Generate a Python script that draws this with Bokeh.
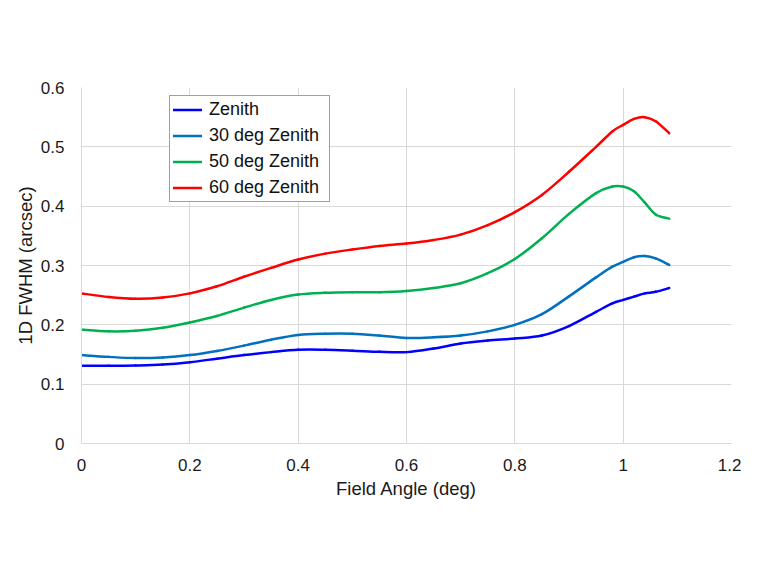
from bokeh.plotting import figure
from bokeh.models import FixedTicker, CustomJSTickFormatter, Legend, LegendItem, Range1d
from bokeh.embed import file_html
from bokeh.resources import INLINE

field_angle = [0, 0.05, 0.1, 0.15, 0.2, 0.25, 0.3, 0.35, 0.4, 0.45, 0.5, 0.55, 0.6,
               0.65, 0.7, 0.75, 0.8, 0.85, 0.9, 0.95, 0.98, 1.0, 1.02, 1.04, 1.06, 1.085]

zenith = [0.131, 0.131, 0.1315, 0.133, 0.137, 0.143, 0.149, 0.154, 0.158, 0.158, 0.1565, 0.1545, 0.154,
          0.160, 0.1685, 0.1735, 0.177, 0.182, 0.198, 0.222, 0.236, 0.242, 0.2475, 0.253, 0.2556, 0.262]
zenith30 = [0.149, 0.146, 0.144, 0.145, 0.149, 0.156, 0.165, 0.175, 0.183, 0.185, 0.185, 0.182, 0.178,
            0.179, 0.182, 0.189, 0.200, 0.218, 0.248, 0.280, 0.298, 0.306, 0.314, 0.316, 0.312, 0.301]
zenith50 = [0.192, 0.189, 0.190, 0.195, 0.204, 0.215, 0.229, 0.242, 0.251, 0.254, 0.255, 0.255, 0.257,
            0.262, 0.270, 0.287, 0.311, 0.346, 0.387, 0.422, 0.433, 0.433, 0.425, 0.406, 0.386, 0.379]
zenith60 = [0.253, 0.247, 0.244, 0.246, 0.253, 0.265, 0.281, 0.296, 0.310, 0.320, 0.327, 0.333, 0.337,
            0.343, 0.352, 0.368, 0.390, 0.419, 0.458, 0.500, 0.526, 0.537, 0.547, 0.550, 0.543, 0.523]

series_names = ["Zenith", "30 deg Zenith", "50 deg Zenith", "60 deg Zenith"]
series_colors = ["#0000FF", "#0070C0", "#00B050", "#FF0000"]
x_ticks = [0, 0.2, 0.4, 0.6, 0.8, 1.0, 1.2]
y_ticks = [0, 0.1, 0.2, 0.3, 0.4, 0.5, 0.6]

FONT = "Liberation Sans"


def smooth_segments(xs, ys):
    """Bezier segments for a smoothed line through the data points (Excel-style)."""
    n = len(xs)
    seg = dict(x0=[], y0=[], x1=[], y1=[], cx0=[], cy0=[], cx1=[], cy1=[])
    for i in range(n - 1):
        a = max(i - 1, 0)
        b = min(i + 2, n - 1)
        seg["x0"].append(xs[i]); seg["y0"].append(ys[i])
        seg["x1"].append(xs[i + 1]); seg["y1"].append(ys[i + 1])
        seg["cx0"].append(xs[i] + (xs[i + 1] - xs[a]) / 6.0)
        seg["cy0"].append(ys[i] + (ys[i + 1] - ys[a]) / 6.0)
        seg["cx1"].append(xs[i + 1] - (xs[b] - xs[i]) / 6.0)
        seg["cy1"].append(ys[i + 1] - (ys[b] - ys[i]) / 6.0)
    return seg


p = figure(width=741, height=569, output_backend="svg", toolbar_location=None,
           x_range=Range1d(0, 1.2), y_range=Range1d(0, 0.6),
           min_border_left=81, min_border_right=10, min_border_top=87, min_border_bottom=126)
p.outline_line_color = None
p.background_fill_color = "white"
p.border_fill_color = "white"

fmt = CustomJSTickFormatter(code="return tick.toFixed(1).replace(/\\.0$/, '');")
for ax, ticks in ((p.xaxis[0], x_ticks), (p.yaxis[0], y_ticks)):
    ax.ticker = FixedTicker(ticks=ticks)
    ax.formatter = fmt
    ax.axis_line_color = "#d9d9d9"
    ax.major_tick_line_color = None
    ax.minor_tick_line_color = None
    ax.major_label_text_font = FONT
    ax.major_label_text_font_size = "17px"
    ax.major_label_text_color = "#1a1a1a"
    ax.axis_label_text_font = FONT
    ax.axis_label_text_font_size = "18.5px"
    ax.axis_label_text_font_style = "normal"
    ax.axis_label_text_color = "#1a1a1a"

p.xaxis[0].axis_label = "Field Angle (deg)"
p.yaxis[0].axis_label = "1D FWHM (arcsec)"
p.xaxis[0].major_label_standoff = 9
p.yaxis[0].major_label_standoff = 11
p.xaxis[0].axis_label_standoff = 4
p.yaxis[0].axis_label_standoff = 2

p.xgrid.ticker = FixedTicker(ticks=x_ticks)
p.ygrid.ticker = FixedTicker(ticks=y_ticks)
p.grid.grid_line_color = "#d9d9d9"
p.grid.grid_line_width = 1

items = []
for ys, name, color in zip([zenith, zenith30, zenith50, zenith60], series_names, series_colors):
    r = p.bezier(source=smooth_segments(field_angle, ys), x0="x0", y0="y0", x1="x1", y1="y1",
                 cx0="cx0", cy0="cy0", cx1="cx1", cy1="cy1",
                 line_color=color, line_width=2.5, line_cap="round")
    items.append(LegendItem(label=name, renderers=[r]))

legend = Legend(items=items, location=(88, 241))
legend.label_text_font = FONT
legend.label_text_font_size = "18px"
legend.label_text_color = "#111111"
legend.glyph_width = 29
legend.glyph_height = 21
legend.label_height = 21
legend.label_width = 117
legend.label_standoff = 7
legend.spacing = 5
legend.padding = 3
legend.margin = 0
legend.border_line_color = "#404040"
legend.border_line_width = 1
legend.background_fill_alpha = 1
p.add_layout(legend, "center")

open("out.html", "w").write(file_html(p, INLINE))
